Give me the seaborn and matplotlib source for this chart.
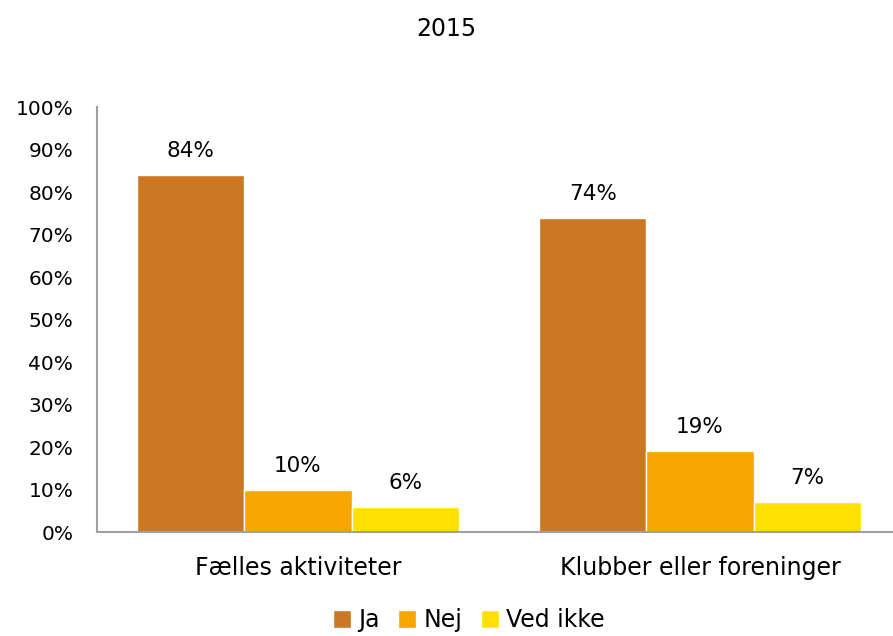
import pandas as pd
import matplotlib
matplotlib.use("Agg")
import matplotlib.pyplot as plt
import seaborn as sns

# data
categories = ["Fælles aktiviteter", "Klubber eller foreninger"]
answers = ["Ja", "Nej", "Ved ikke"]
ja_values = [84, 74]
nej_values = [10, 19]
ved_ikke_values = [6, 7]
colors = ["#CC7722", "#F7A500", "#FFE000"]

df = pd.DataFrame({
    "kategori": categories * 3,
    "svar": [a for a in answers for _ in categories],
    "andel": ja_values + nej_values + ved_ikke_values,
})

sns.set_style("white")
plt.rcParams["font.family"] = ["DejaVu Sans"]
plt.rcParams["text.color"] = "black"
plt.rcParams["xtick.color"] = "black"
plt.rcParams["ytick.color"] = "black"

fig = plt.figure(figsize=(8.93, 6.36), dpi=100)
ax = fig.add_axes([0.1086, 0.1635, 0.9003, 0.668])

sns.barplot(data=df, x="kategori", y="andel", hue="svar", hue_order=answers,
            palette=colors, width=0.8, gap=0, saturation=1, ax=ax, legend=True)

for container in ax.containers:
    ax.bar_label(container, labels=[f"{v:.0f}%" for v in container.datavalues],
                 padding=10, fontsize=15.5, color="black")

ax.set_ylim(0, 100)
ax.set_xlim(-0.5, 1.5)
ax.set_yticks(range(0, 101, 10))
ax.set_yticklabels([f"{t}%" for t in range(0, 101, 10)], fontsize=14.5)
ax.tick_params(axis="x", labelsize=17, pad=17, length=0)
ax.tick_params(axis="y", pad=17, length=0)
ax.set_xlabel("")
ax.set_ylabel("")
sns.despine(ax=ax)
for side in ["left", "bottom"]:
    ax.spines[side].set_color("#A0A0A0")
    ax.spines[side].set_linewidth(1.5)

fig.legend(*ax.get_legend_handles_labels(), loc="center", bbox_to_anchor=(0.525, 0.025),
           ncol=3, frameon=False, fontsize=17, handlelength=0.75, handleheight=0.75,
           handletextpad=0.3, columnspacing=0.8)
ax.get_legend().remove()

fig.text(0.5, 0.955, "2015", ha="center", va="center", fontsize=17)

fig.savefig("out.png", dpi=100)
